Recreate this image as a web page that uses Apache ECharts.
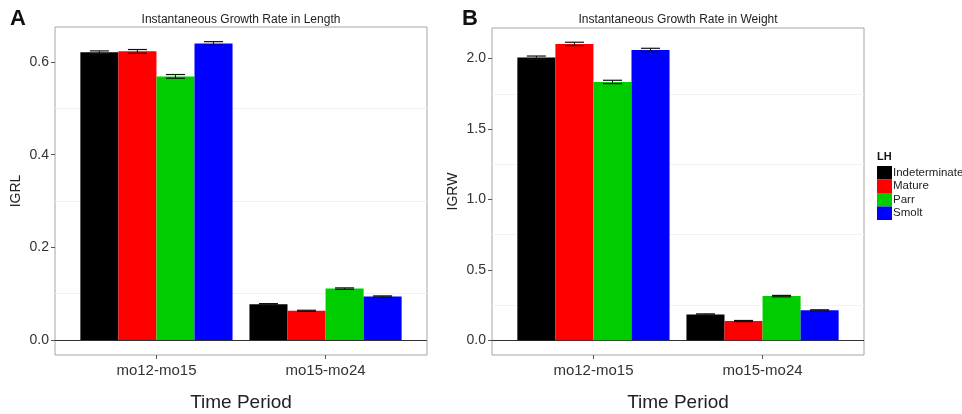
<!DOCTYPE html>
<html>
<head>
<meta charset="utf-8">
<script src="https://cdn.jsdelivr.net/npm/echarts@6/dist/echarts.min.js"></script>
<style>
html,body{margin:0;padding:0;background:#fff;}
#chart{width:962px;height:414px;}
</style>
</head>
<body>
<div id="chart"></div>
<script>
// ---- data ----
var categories = ['mo12-mo15', 'mo15-mo24'];
var lhGroups = ['Indeterminate', 'Mature', 'Parr', 'Smolt'];
var lhColors = ['#000000', '#ff0000', '#00cd00', '#0000ff'];

var igrlIndeterminate = [0.621, 0.077];
var igrlMature        = [0.623, 0.063];
var igrlParr          = [0.569, 0.111];
var igrlSmolt         = [0.640, 0.094];
var igrlSeIndeterminate = [0.003, 0.0015];
var igrlSeMature        = [0.004, 0.0012];
var igrlSeParr          = [0.004, 0.0015];
var igrlSeSmolt         = [0.004, 0.0012];

var igrwIndeterminate = [2.007, 0.184];
var igrwMature        = [2.104, 0.137];
var igrwParr          = [1.834, 0.314];
var igrwSmolt         = [2.061, 0.213];
var igrwSeIndeterminate = [0.011, 0.004];
var igrwSeMature        = [0.012, 0.004];
var igrwSeParr          = [0.012, 0.005];
var igrwSeSmolt         = [0.012, 0.004];

var igrlTicks = [0, 0.2, 0.4, 0.6];
var igrlMinor = [0.1, 0.3, 0.5];
var igrwTicks = [0, 0.5, 1.0, 1.5, 2.0];
var igrwMinor = [0.25, 0.75, 1.25, 1.75];

var igrlValues = [igrlIndeterminate, igrlMature, igrlParr, igrlSmolt];
var igrlSes = [igrlSeIndeterminate, igrlSeMature, igrlSeParr, igrlSeSmolt];
var igrwValues = [igrwIndeterminate, igrwMature, igrwParr, igrwSmolt];
var igrwSes = [igrwSeIndeterminate, igrwSeMature, igrwSeParr, igrwSeSmolt];

// ---- chart ----
var chart = echarts.init(document.getElementById('chart'), null, {renderer: 'canvas'});
var dodge = 0.9, nGroups = lhGroups.length, barW = dodge / nGroups;

function makeRender(k) {
  var off = -dodge / 2 + barW * (k + 0.5);
  return function (params, api) {
    var g = api.value(0), v = api.value(1), se = api.value(2);
    var c = g + off;
    var p0 = api.coord([c - barW / 2, 0]);
    var p1 = api.coord([c + barW / 2, v]);
    var top = api.coord([c, v + se]);
    var bot = api.coord([c, v - se]);
    var capL = api.coord([c - barW * 0.25, v])[0];
    var capR = api.coord([c + barW * 0.25, v])[0];
    var col = api.visual('color');
    return {
      type: 'group',
      children: [
        {type: 'rect', shape: {x: p0[0], y: p1[1], width: p1[0] - p0[0], height: p0[1] - p1[1]},
         style: {fill: col}},
        {type: 'line', shape: {x1: top[0], y1: top[1], x2: bot[0], y2: bot[1]},
         style: {stroke: '#111', lineWidth: 1}},
        {type: 'line', shape: {x1: capL, y1: top[1], x2: capR, y2: top[1]},
         style: {stroke: '#111', lineWidth: 1.2}},
        {type: 'line', shape: {x1: capL, y1: bot[1], x2: capR, y2: bot[1]},
         style: {stroke: '#111', lineWidth: 1.2}}
      ]
    };
  };
}

function buildSeries(values, ses, axisIdx, minor) {
  var out = [];
  for (var k = 0; k < nGroups; k++) {
    var data = [];
    for (var g = 0; g < categories.length; g++) {
      data.push([g + 1, values[k][g], ses[k][g]]);
    }
    var s = {
      type: 'custom',
      name: lhGroups[k],
      xAxisIndex: axisIdx,
      yAxisIndex: axisIdx,
      itemStyle: {color: lhColors[k]},
      renderItem: makeRender(k),
      encode: {x: 0, y: 1},
      data: data
    };
    if (k === 0) {
      var md = minor.map(function (m) { return {yAxis: m, lineStyle: {color: '#f2f2f2', width: 1, type: 'solid'}}; });
      md.push({yAxis: 0, lineStyle: {color: '#333', width: 1, type: 'solid'}});
      s.markLine = {silent: true, symbol: 'none', label: {show: false}, z: 1, data: md, animation: false};
    }
    out.push(s);
  }
  return out;
}

function xAx(idx) {
  return {
    type: 'value', gridIndex: idx, min: 0.4, max: 2.6,
    name: 'Time Period', nameLocation: 'middle', nameGap: 38,
    nameTextStyle: {fontSize: 19, color: '#222', fontFamily: 'Liberation Sans'},
    axisLine: {show: false, onZero: false},
    splitLine: {show: false},
    axisTick: {show: true, customValues: [1, 2], length: 4, lineStyle: {color: '#555'}},
    axisLabel: {customValues: [1, 2], fontSize: 15, color: '#333', margin: 8, fontFamily: 'Liberation Sans',
      formatter: function (v) { return categories[Math.round(v) - 1]; }}
  };
}
function yAx(idx, name, min, max, ticks) {
  return {
    type: 'value', gridIndex: idx, min: min, max: max,
    name: name, nameLocation: 'middle', nameGap: 32,
    nameTextStyle: {fontSize: 14, color: '#222', fontFamily: 'Liberation Sans'},
    axisLine: {show: false, onZero: false},
    splitLine: {show: false},
    axisTick: {show: true, customValues: ticks, length: 4, lineStyle: {color: '#555'}},
    axisLabel: {customValues: ticks, fontSize: 14, color: '#333', margin: 6, fontFamily: 'Liberation Sans',
      formatter: function (v) { return v.toFixed(1); }}
  };
}

var option = {
  animation: false,
  backgroundColor: '#fff',
  textStyle: {fontFamily: 'Liberation Sans'},
  title: [
    {text: 'A', left: 10, top: 8, padding: 0, textStyle: {fontSize: 22, fontWeight: 'bold', color: '#111'}},
    {text: 'B', left: 462, top: 8, padding: 0, textStyle: {fontSize: 22, fontWeight: 'bold', color: '#111'}},
    {text: 'Instantaneous Growth Rate in Length', left: 241, top: 14, padding: 0, textAlign: 'center',
     textStyle: {fontSize: 12, fontWeight: 'normal', color: '#222'}},
    {text: 'Instantaneous Growth Rate in Weight', left: 678, top: 14, padding: 0, textAlign: 'center',
     textStyle: {fontSize: 12, fontWeight: 'normal', color: '#222'}},
    {text: 'LH', left: 877, top: 151, padding: 0, textStyle: {fontSize: 11, fontWeight: 'bold', color: '#111'}}
  ],
  legend: {
    data: lhGroups,
    orient: 'vertical', left: 877, top: 166, padding: 0,
    itemWidth: 15, itemHeight: 13.5, itemGap: 0, icon: 'rect',
    textStyle: {fontSize: 11.5, color: '#222', padding: [0, 0, 0, -4]},
    selectedMode: false
  },
  grid: [
    {left: 55, top: 27, width: 372, height: 328, show: true, borderColor: '#a6a6a6', borderWidth: 1,
     containLabel: false, outerBoundsMode: 'none'},
    {left: 492, top: 28, width: 372, height: 327, show: true, borderColor: '#a6a6a6', borderWidth: 1,
     containLabel: false, outerBoundsMode: 'none'}
  ],
  xAxis: [xAx(0), xAx(1)],
  yAxis: [
    yAx(0, 'IGRL', -0.0324, 0.6756, igrlTicks),
    yAx(1, 'IGRW', -0.104, 2.217, igrwTicks)
  ],
  series: buildSeries(igrlValues, igrlSes, 0, igrlMinor).concat(buildSeries(igrwValues, igrwSes, 1, igrwMinor))
};
chart.setOption(option);
</script>
</body>
</html>
